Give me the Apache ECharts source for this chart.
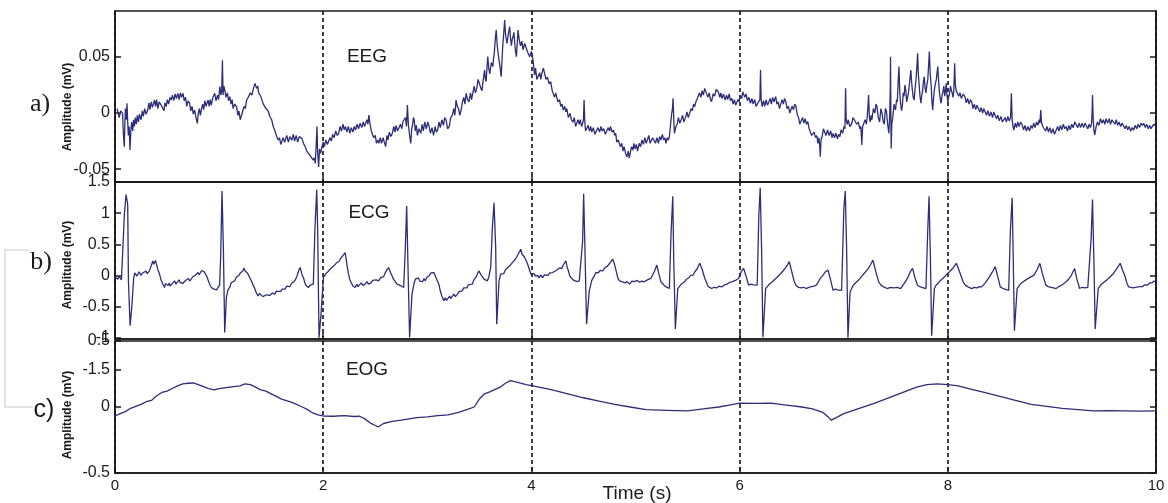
<!DOCTYPE html>
<html>
<head>
<meta charset="utf-8">
<script src="https://cdn.jsdelivr.net/npm/echarts@6/dist/echarts.min.js"></script>
<style>
html,body{margin:0;padding:0;background:#fff;}
#chart{width:1168px;height:503px;}
</style>
</head>
<body>
<div id="chart"></div>
<script>
// ---- data (time in s, amplitude in axis units) ----
const timeTicks = [0, 2, 4, 6, 8, 10];
const timeLabels = ['0', '2', '4', '6', '8', '10'];

const eegTickValues = [-0.05, 0, 0.05];
const eegTickLabels = ['-0.05', '0', '0.05'];
const ecgTickValues = [-1, -0.5, 0, 0.5, 1, 1.5];
const ecgTickLabels = ['-1', '-0.5', '0', '0.5', '1', '1.5'];
const eogTickValues = [-0.5, 0, 0.28, 0.5];
const eogTickLabels = ['-0.5', '0', '-1.5', '0.5'];

const panelLetters = ['a)', 'b)', 'c)'];
const panelNames = ['EEG', 'ECG', 'EOG'];

const eegPoints = [
[0.02,0.004],[0.04,-0.004],[0.055,0.002],[0.073,-0.0003],[0.08,-0.018],[0.089,-0.030],[0.095,-0.010],[0.100,0.004],[0.108,-0.006],[0.115,0.0087],[0.122,-0.008],[0.128,-0.020],[0.136,-0.012],[0.144,-0.033],[0.152,-0.016],[0.160,-0.008],[0.170,-0.016],[0.178,-0.006],[0.186,-0.012],[0.196,-0.004],[0.205,-0.010],[0.215,-0.002],[0.225,-0.008],[0.235,-0.001],[0.250,-0.006],[0.262,0.002],[0.272,-0.003],[0.285,0.004],[0.298,-0.001],[0.314,0.0027],[0.326,0.009],[0.336,0.003],[0.348,0.010],[0.360,0.005],[0.379,0.0116],[0.390,0.006],[0.400,0.012],[0.412,0.004],[0.425,0.010],[0.443,0.0116],[0.455,0.005],[0.470,0.002],[0.480,0.009],[0.491,0.0057],[0.503,0.012],[0.515,0.008],[0.528,0.014],[0.540,0.0116],[0.552,0.016],[0.565,0.011],[0.578,0.017],[0.590,0.013],[0.604,0.0176],[0.616,0.012],[0.628,0.018],[0.640,0.014],[0.653,0.0176],[0.665,0.011],[0.678,0.014],[0.690,0.006],[0.703,0.011],[0.717,0.0087],[0.728,0.002],[0.740,0.006],[0.752,-0.001],[0.765,0.0027],[0.778,-0.004],[0.791,-0.0092],[0.800,0.000],[0.810,0.004],[0.820,-0.002],[0.829,0.0027],[0.842,0.008],[0.852,0.003],[0.863,0.011],[0.875,0.006],[0.894,0.0116],[0.905,0.006],[0.915,0.012],[0.925,0.007],[0.940,0.014],[0.958,0.0176],[0.970,0.011],[0.985,0.016],[0.995,0.012],[1.007,0.0235],[1.018,0.016],[1.025,0.020],[1.032,0.047],[1.038,0.016],[1.046,0.024],[1.055,0.0205],[1.066,0.014],[1.080,0.018],[1.090,0.011],[1.103,0.0146],[1.115,0.008],[1.125,0.012],[1.135,0.004],[1.150,0.008],[1.168,0.0057],[1.180,-0.002],[1.190,0.002],[1.203,-0.006],[1.216,-0.006],[1.228,0.002],[1.240,0.006],[1.252,0.004],[1.264,0.0116],[1.280,0.014],[1.300,0.018],[1.315,0.016],[1.330,0.022],[1.345,0.0265],[1.360,0.022],[1.372,0.024],[1.380,0.018],[1.395,0.016],[1.409,0.0146],[1.425,0.008],[1.440,0.009],[1.450,0.004],[1.470,0.002],[1.489,-0.0033],[1.505,-0.006],[1.520,-0.012],[1.537,-0.016],[1.554,-0.0211],[1.568,-0.024],[1.580,-0.022],[1.592,-0.028],[1.602,-0.0271],[1.615,-0.022],[1.630,-0.026],[1.650,-0.020],[1.665,-0.026],[1.680,-0.021],[1.699,-0.0241],[1.712,-0.019],[1.725,-0.025],[1.740,-0.020],[1.755,-0.026],[1.770,-0.021],[1.795,-0.0226],[1.810,-0.027],[1.828,-0.030],[1.842,-0.034],[1.860,-0.033],[1.875,-0.038],[1.892,-0.039],[1.905,-0.042],[1.915,-0.040],[1.924,-0.045],[1.932,-0.030],[1.940,-0.012],[1.947,-0.035],[1.956,-0.048],[1.965,-0.032],[1.975,-0.036],[1.988,-0.030],[2.000,-0.026],[2.012,-0.030],[2.025,-0.024],[2.040,-0.028],[2.053,-0.0271],[2.065,-0.022],[2.078,-0.025],[2.090,-0.019],[2.105,-0.022],[2.120,-0.016],[2.135,-0.020],[2.149,-0.0181],[2.162,-0.012],[2.175,-0.016],[2.190,-0.010],[2.202,-0.015],[2.214,-0.012],[2.228,-0.017],[2.242,-0.012],[2.256,-0.018],[2.270,-0.013],[2.285,-0.017],[2.298,-0.012],[2.310,-0.0152],[2.325,-0.010],[2.340,-0.014],[2.355,-0.009],[2.370,-0.013],[2.385,-0.008],[2.397,-0.012],[2.407,-0.0092],[2.420,-0.006],[2.430,-0.010],[2.439,-0.0018],[2.450,-0.010],[2.462,-0.016],[2.471,-0.0152],[2.485,-0.022],[2.500,-0.020],[2.512,-0.027],[2.525,-0.024],[2.535,-0.0271],[2.548,-0.022],[2.560,-0.027],[2.575,-0.022],[2.587,-0.026],[2.600,-0.030],[2.612,-0.020],[2.622,-0.024],[2.635,-0.017],[2.650,-0.021],[2.664,-0.0181],[2.678,-0.012],[2.690,-0.017],[2.700,-0.011],[2.715,-0.016],[2.729,-0.0152],[2.742,-0.010],[2.755,-0.014],[2.765,-0.008],[2.777,-0.0092],[2.790,-0.004],[2.800,-0.012],[2.809,0.0071],[2.818,-0.010],[2.825,-0.016],[2.833,-0.022],[2.841,-0.0271],[2.850,-0.014],[2.860,-0.010],[2.867,-0.004],[2.874,-0.006],[2.885,-0.016],[2.895,-0.011],[2.905,-0.020],[2.920,-0.014],[2.938,-0.0181],[2.950,-0.010],[2.962,-0.016],[2.975,-0.008],[2.990,-0.014],[3.005,-0.008],[3.018,-0.012],[3.030,-0.018],[3.045,-0.013],[3.060,-0.020],[3.075,-0.012],[3.087,-0.017],[3.099,-0.0152],[3.112,-0.008],[3.125,-0.013],[3.140,-0.006],[3.155,-0.011],[3.167,-0.004],[3.180,-0.006],[3.195,-0.014],[3.211,-0.012],[3.225,-0.004],[3.240,-0.002],[3.255,0.004],[3.265,-0.002],[3.276,0.0116],[3.288,0.006],[3.300,0.004],[3.312,-0.002],[3.325,0.0027],[3.338,0.010],[3.350,0.014],[3.362,0.008],[3.373,0.0176],[3.387,0.012],[3.400,0.010],[3.415,0.018],[3.425,0.012],[3.437,0.0176],[3.450,0.024],[3.462,0.018],[3.475,0.022],[3.488,0.030],[3.502,0.0295],[3.515,0.022],[3.525,0.020],[3.538,0.030],[3.550,0.0384],[3.558,0.030],[3.565,0.028],[3.573,0.040],[3.581,0.0503],[3.590,0.040],[3.600,0.035],[3.615,0.045],[3.630,0.0414],[3.638,0.050],[3.645,0.055],[3.653,0.066],[3.662,0.0741],[3.672,0.060],[3.685,0.050],[3.697,0.042],[3.710,0.0324],[3.718,0.048],[3.725,0.060],[3.735,0.072],[3.743,0.083],[3.752,0.070],[3.765,0.062],[3.778,0.070],[3.791,0.077],[3.800,0.066],[3.808,0.060],[3.816,0.066],[3.824,0.068],[3.832,0.072],[3.840,0.062],[3.848,0.055],[3.856,0.0503],[3.864,0.062],[3.872,0.0741],[3.882,0.066],[3.895,0.060],[3.908,0.064],[3.920,0.0563],[3.935,0.062],[3.950,0.058],[3.965,0.054],[3.984,0.0503],[4.000,0.055],[4.016,0.047],[4.030,0.034],[4.040,0.040],[4.052,0.030],[4.065,0.0295],[4.080,0.036],[4.090,0.030],[4.100,0.035],[4.115,0.040],[4.129,0.0384],[4.140,0.030],[4.155,0.032],[4.170,0.026],[4.185,0.028],[4.200,0.020],[4.209,0.0205],[4.222,0.014],[4.233,0.018],[4.242,0.0146],[4.255,0.010],[4.270,0.012],[4.282,0.006],[4.295,0.008],[4.306,0.0027],[4.320,0.006],[4.330,0.001],[4.340,0.004],[4.355,-0.004],[4.371,-0.0003],[4.385,-0.006],[4.400,-0.008],[4.412,-0.004],[4.424,-0.012],[4.435,-0.012],[4.448,-0.006],[4.460,-0.010],[4.470,-0.006],[4.482,-0.012],[4.490,-0.010],[4.500,-0.006],[4.506,0.0116],[4.512,-0.006],[4.520,-0.016],[4.532,-0.0152],[4.545,-0.011],[4.558,-0.016],[4.570,-0.012],[4.580,-0.017],[4.595,-0.013],[4.610,-0.019],[4.628,-0.0181],[4.640,-0.013],[4.655,-0.017],[4.668,-0.012],[4.680,-0.016],[4.695,-0.014],[4.710,-0.019],[4.725,-0.0181],[4.738,-0.013],[4.750,-0.016],[4.760,-0.012],[4.775,-0.017],[4.789,-0.0152],[4.800,-0.020],[4.810,-0.018],[4.820,-0.026],[4.835,-0.024],[4.854,-0.030],[4.868,-0.027],[4.880,-0.034],[4.890,-0.030],[4.905,-0.036],[4.918,-0.039],[4.930,-0.034],[4.940,-0.040],[4.952,-0.039],[4.962,-0.030],[4.975,-0.033],[4.984,-0.0271],[4.995,-0.032],[5.008,-0.028],[5.020,-0.034],[5.035,-0.027],[5.049,-0.030],[5.062,-0.024],[5.075,-0.028],[5.090,-0.022],[5.102,-0.027],[5.114,-0.0241],[5.128,-0.020],[5.140,-0.027],[5.150,-0.028],[5.165,-0.022],[5.179,-0.0211],[5.192,-0.027],[5.205,-0.022],[5.220,-0.027],[5.232,-0.021],[5.244,-0.0241],[5.258,-0.019],[5.270,-0.024],[5.282,-0.022],[5.293,-0.0271],[5.305,-0.022],[5.315,-0.024],[5.325,-0.0211],[5.335,-0.012],[5.348,-0.0003],[5.355,0.004],[5.361,0.0131],[5.367,-0.004],[5.374,-0.0181],[5.388,-0.012],[5.400,-0.010],[5.412,-0.004],[5.425,-0.009],[5.439,-0.006],[5.452,-0.002],[5.465,-0.008],[5.480,-0.004],[5.495,0.001],[5.507,-0.004],[5.520,-0.0003],[5.533,0.004],[5.545,0.002],[5.558,0.008],[5.568,0.0057],[5.580,0.010],[5.590,0.012],[5.601,0.0131],[5.615,0.018],[5.628,0.014],[5.640,0.020],[5.652,0.016],[5.665,0.022],[5.682,0.0205],[5.695,0.014],[5.708,0.018],[5.720,0.012],[5.731,0.0101],[5.745,0.017],[5.760,0.015],[5.775,0.021],[5.795,0.019],[5.810,0.014],[5.820,0.018],[5.830,0.013],[5.845,0.017],[5.860,0.0116],[5.875,0.016],[5.885,0.012],[5.900,0.017],[5.912,0.011],[5.925,0.0131],[5.938,0.008],[5.950,0.012],[5.962,0.007],[5.974,0.0057],[5.985,0.012],[5.995,0.010],[6.005,0.016],[6.020,0.013],[6.030,0.019],[6.039,0.0205],[6.050,0.014],[6.062,0.017],[6.075,0.011],[6.090,0.014],[6.104,0.0087],[6.118,0.013],[6.130,0.008],[6.145,0.012],[6.158,0.006],[6.169,0.0071],[6.182,0.010],[6.195,0.012],[6.201,0.0384],[6.207,0.012],[6.217,0.0057],[6.230,0.011],[6.242,0.006],[6.255,0.012],[6.268,0.007],[6.282,0.0087],[6.295,0.013],[6.305,0.008],[6.318,0.014],[6.330,0.010],[6.347,0.0146],[6.358,0.008],[6.370,0.010],[6.383,0.004],[6.396,0.0057],[6.408,0.012],[6.420,0.008],[6.432,0.013],[6.444,0.0101],[6.456,0.004],[6.470,0.006],[6.482,0.000],[6.493,-0.0003],[6.505,0.006],[6.518,0.003],[6.530,0.008],[6.542,0.0057],[6.555,-0.002],[6.567,-0.004],[6.578,-0.010],[6.590,-0.0092],[6.605,-0.004],[6.617,-0.009],[6.630,-0.005],[6.642,-0.010],[6.655,-0.0077],[6.668,-0.014],[6.680,-0.015],[6.692,-0.020],[6.704,-0.0211],[6.716,-0.017],[6.730,-0.022],[6.742,-0.020],[6.752,-0.0271],[6.762,-0.022],[6.770,-0.030],[6.775,-0.039],[6.782,-0.024],[6.795,-0.020],[6.805,-0.014],[6.817,-0.0152],[6.830,-0.020],[6.845,-0.015],[6.860,-0.020],[6.875,-0.016],[6.888,-0.022],[6.898,-0.0181],[6.912,-0.022],[6.925,-0.018],[6.940,-0.023],[6.950,-0.019],[6.963,-0.0211],[6.975,-0.015],[6.990,-0.018],[7.003,-0.012],[7.012,-0.014],[7.018,0.022],[7.024,-0.006],[7.034,-0.010],[7.044,-0.006],[7.058,-0.012],[7.075,-0.010],[7.090,-0.004],[7.109,-0.0033],[7.125,-0.010],[7.140,-0.008],[7.155,-0.014],[7.165,-0.012],[7.174,-0.0285],[7.182,-0.012],[7.190,-0.010],[7.206,-0.006],[7.218,-0.010],[7.225,-0.004],[7.232,0.004],[7.239,0.0161],[7.247,-0.004],[7.255,-0.008],[7.263,-0.002],[7.271,-0.006],[7.285,0.004],[7.300,0.000],[7.310,0.008],[7.320,0.0057],[7.332,-0.004],[7.345,-0.008],[7.357,0.004],[7.369,-0.0003],[7.380,-0.008],[7.390,-0.010],[7.400,0.004],[7.410,0.002],[7.422,-0.010],[7.434,-0.0181],[7.442,-0.002],[7.447,0.020],[7.450,0.0503],[7.453,0.000],[7.456,-0.0316],[7.462,-0.010],[7.470,-0.005],[7.484,0.008],[7.498,0.0027],[7.508,0.012],[7.515,0.010],[7.524,0.030],[7.531,0.0414],[7.538,0.020],[7.545,0.010],[7.555,0.002],[7.563,0.0057],[7.572,0.018],[7.580,0.015],[7.588,0.025],[7.596,0.0205],[7.605,0.010],[7.615,0.010],[7.622,0.018],[7.630,0.025],[7.638,0.032],[7.645,0.0384],[7.652,0.028],[7.660,0.020],[7.668,0.014],[7.677,0.0116],[7.686,0.022],[7.695,0.030],[7.702,0.040],[7.710,0.0533],[7.717,0.035],[7.725,0.025],[7.733,0.015],[7.742,0.0087],[7.750,0.016],[7.758,0.020],[7.766,0.028],[7.774,0.0324],[7.782,0.022],[7.790,0.018],[7.799,0.025],[7.808,0.030],[7.815,0.042],[7.823,0.0548],[7.831,0.035],[7.840,0.025],[7.848,0.010],[7.855,0.0027],[7.862,0.012],[7.870,0.020],[7.880,0.026],[7.890,0.030],[7.897,0.036],[7.904,0.0414],[7.912,0.028],[7.920,0.018],[7.928,0.012],[7.936,0.0087],[7.945,0.016],[7.955,0.020],[7.962,0.024],[7.970,0.015],[7.978,0.020],[7.985,0.0265],[7.992,0.016],[8.000,0.010],[8.008,0.014],[8.017,0.0176],[8.026,0.024],[8.035,0.020],[8.042,0.018],[8.050,0.014],[8.058,0.020],[8.066,0.0444],[8.072,0.026],[8.080,0.020],[8.092,0.0205],[8.105,0.015],[8.118,0.018],[8.130,0.013],[8.148,0.017],[8.164,0.0146],[8.178,0.009],[8.190,0.013],[8.205,0.008],[8.217,0.012],[8.229,0.0101],[8.242,0.004],[8.255,0.008],[8.268,0.003],[8.280,0.007],[8.293,0.0057],[8.308,0.001],[8.320,0.005],[8.335,0.000],[8.345,0.004],[8.358,0.0027],[8.372,-0.002],[8.385,0.002],[8.400,-0.003],[8.415,0.001],[8.430,-0.004],[8.442,0.001],[8.455,-0.0003],[8.468,-0.005],[8.480,-0.002],[8.495,-0.007],[8.510,-0.003],[8.525,-0.008],[8.537,-0.0092],[8.550,-0.004],[8.563,-0.008],[8.577,-0.003],[8.590,-0.007],[8.603,-0.004],[8.611,0.0176],[8.618,-0.006],[8.626,-0.012],[8.634,-0.0152],[8.648,-0.009],[8.660,-0.013],[8.672,-0.008],[8.685,-0.012],[8.700,-0.008],[8.715,-0.0107],[8.728,-0.015],[8.742,-0.011],[8.755,-0.016],[8.770,-0.012],[8.785,-0.016],[8.800,-0.011],[8.812,-0.0137],[8.825,-0.009],[8.838,-0.013],[8.852,-0.008],[8.865,-0.011],[8.878,-0.006],[8.885,-0.009],[8.893,0.0027],[8.900,-0.008],[8.912,-0.012],[8.926,-0.012],[8.940,-0.016],[8.953,-0.012],[8.967,-0.017],[8.980,-0.013],[8.995,-0.018],[9.010,-0.014],[9.025,-0.019],[9.040,-0.0181],[9.055,-0.012],[9.068,-0.016],[9.082,-0.011],[9.095,-0.015],[9.110,-0.010],[9.123,-0.014],[9.137,-0.012],[9.150,-0.016],[9.163,-0.011],[9.177,-0.015],[9.190,-0.010],[9.205,-0.013],[9.220,-0.008],[9.234,-0.0092],[9.248,-0.013],[9.262,-0.009],[9.275,-0.013],[9.290,-0.009],[9.305,-0.013],[9.318,-0.009],[9.331,-0.0107],[9.345,-0.014],[9.358,-0.010],[9.370,-0.013],[9.380,-0.010],[9.386,0.000],[9.390,0.0161],[9.396,-0.004],[9.404,-0.016],[9.412,-0.0196],[9.425,-0.012],[9.438,-0.008],[9.452,-0.011],[9.466,-0.005],[9.480,-0.009],[9.494,-0.006],[9.508,-0.010],[9.520,-0.005],[9.535,-0.009],[9.550,-0.005],[9.563,-0.010],[9.577,-0.006],[9.591,-0.006],[9.605,-0.010],[9.618,-0.006],[9.632,-0.011],[9.645,-0.008],[9.660,-0.012],[9.675,-0.009],[9.688,-0.0107],[9.702,-0.014],[9.715,-0.011],[9.728,-0.015],[9.742,-0.012],[9.757,-0.016],[9.772,-0.013],[9.786,-0.0152],[9.800,-0.011],[9.815,-0.014],[9.828,-0.010],[9.842,-0.013],[9.856,-0.009],[9.870,-0.011],[9.883,-0.0092],[9.897,-0.013],[9.910,-0.010],[9.925,-0.014],[9.940,-0.011],[9.952,-0.014],[9.964,-0.012],[9.980,-0.010],[10.0,-0.012]
];

const ecgPoints = [
[0.0,-0.02],[0.013,-0.05],[0.026,-0.06],[0.040,-0.02],[0.050,-0.04],[0.062,-0.07],[0.074,-0.086],[0.090,0.98],[0.106,1.30],[0.122,1.14],[0.129,-0.086],[0.145,-0.808],[0.161,-0.514],[0.180,-0.034],[0.190,0.040],[0.200,0.030],[0.210,-0.010],[0.219,0.02],[0.232,0.060],[0.250,0.000],[0.265,0.040],[0.275,0.010],[0.283,0.047],[0.297,0.070],[0.310,0.030],[0.320,0.060],[0.331,0.073],[0.342,0.130],[0.350,0.150],[0.363,0.233],[0.372,0.180],[0.380,0.200],[0.388,0.240],[0.395,0.207],[0.410,0.100],[0.420,0.060],[0.428,0.02],[0.440,-0.060],[0.450,-0.100],[0.462,-0.150],[0.476,-0.193],[0.485,-0.130],[0.495,-0.150],[0.510,-0.160],[0.522,-0.120],[0.530,-0.170],[0.540,-0.193],[0.555,-0.120],[0.573,-0.086],[0.585,-0.140],[0.600,-0.120],[0.615,-0.070],[0.625,-0.110],[0.636,-0.086],[0.650,-0.130],[0.665,-0.120],[0.678,-0.080],[0.690,-0.100],[0.705,-0.050],[0.718,-0.090],[0.733,-0.06],[0.748,-0.020],[0.760,-0.040],[0.770,0.000],[0.785,0.020],[0.797,0.047],[0.808,0.010],[0.820,0.040],[0.832,0.080],[0.845,0.10],[0.857,0.060],[0.870,0.030],[0.880,-0.010],[0.893,-0.034],[0.905,-0.120],[0.915,-0.160],[0.925,-0.193],[0.940,-0.170],[0.950,-0.220],[0.960,-0.200],[0.975,-0.230],[0.990,-0.247],[1.005,-0.150],[1.015,0.287],[1.028,1.357],[1.041,0.447],[1.054,-0.915],[1.070,-0.354],[1.085,-0.230],[1.102,-0.193],[1.115,-0.120],[1.128,-0.140],[1.150,-0.086],[1.165,-0.030],[1.178,-0.050],[1.190,0.000],[1.205,0.040],[1.218,0.02],[1.230,0.080],[1.240,0.120],[1.250,0.070],[1.262,0.084],[1.275,0.030],[1.290,0.000],[1.310,-0.086],[1.325,-0.150],[1.340,-0.200],[1.358,-0.280],[1.375,-0.327],[1.388,-0.290],[1.400,-0.300],[1.420,-0.340],[1.439,-0.354],[1.455,-0.310],[1.470,-0.340],[1.490,-0.320],[1.510,-0.280],[1.522,-0.310],[1.535,-0.30],[1.550,-0.250],[1.565,-0.280],[1.590,-0.260],[1.605,-0.220],[1.618,-0.250],[1.632,-0.22],[1.650,-0.170],[1.665,-0.200],[1.680,-0.180],[1.695,-0.130],[1.711,-0.14],[1.725,-0.090],[1.738,-0.050],[1.750,0.000],[1.765,0.080],[1.779,0.128],[1.795,0.020],[1.810,-0.034],[1.830,-0.150],[1.857,-0.193],[1.880,-0.150],[1.895,-0.180],[1.905,-0.14],[1.921,0.768],[1.938,1.38],[1.947,0.715],[1.960,-1.0],[1.979,-0.62],[2.002,-0.034],[2.020,0.020],[2.040,0.050],[2.052,0.030],[2.066,0.10],[2.085,0.120],[2.100,0.150],[2.115,0.140],[2.130,0.207],[2.150,0.220],[2.170,0.280],[2.185,0.270],[2.195,0.330],[2.211,0.367],[2.230,0.150],[2.243,0.02],[2.255,-0.060],[2.270,-0.120],[2.285,-0.170],[2.307,-0.193],[2.322,-0.140],[2.335,-0.180],[2.350,-0.160],[2.365,-0.120],[2.380,-0.160],[2.403,-0.14],[2.420,-0.100],[2.435,-0.140],[2.460,-0.120],[2.475,-0.080],[2.490,-0.110],[2.510,-0.070],[2.532,-0.086],[2.550,-0.040],[2.565,-0.050],[2.580,-0.020],[2.595,0.040],[2.610,0.080],[2.628,0.128],[2.645,0.050],[2.660,0.000],[2.675,-0.060],[2.693,-0.086],[2.710,-0.140],[2.725,-0.120],[2.740,-0.160],[2.755,-0.180],[2.773,-0.193],[2.789,0.447],[2.802,1.115],[2.814,0.18],[2.830,-0.996],[2.853,-0.30],[2.870,-0.150],[2.885,-0.060],[2.901,-0.086],[2.915,-0.040],[2.928,-0.090],[2.940,-0.060],[2.955,-0.100],[2.968,-0.050],[2.981,-0.086],[2.995,-0.030],[3.008,-0.050],[3.020,0.000],[3.035,0.040],[3.048,0.010],[3.063,0.047],[3.075,0.020],[3.090,-0.060],[3.111,-0.14],[3.125,-0.250],[3.140,-0.330],[3.158,-0.407],[3.172,-0.360],[3.185,-0.400],[3.200,-0.380],[3.215,-0.330],[3.225,-0.370],[3.239,-0.354],[3.255,-0.300],[3.270,-0.340],[3.290,-0.300],[3.305,-0.260],[3.320,-0.290],[3.335,-0.247],[3.350,-0.200],[3.365,-0.230],[3.380,-0.200],[3.395,-0.150],[3.410,-0.180],[3.432,-0.14],[3.445,-0.080],[3.458,-0.050],[3.470,-0.020],[3.485,0.040],[3.497,0.073],[3.512,0.020],[3.530,0.000],[3.545,-0.060],[3.560,-0.030],[3.577,-0.086],[3.592,-0.020],[3.609,0.128],[3.625,0.768],[3.641,1.168],[3.657,0.447],[3.667,-0.782],[3.689,-0.086],[3.705,0.020],[3.720,0.050],[3.735,0.030],[3.753,0.10],[3.770,0.090],[3.790,0.150],[3.805,0.130],[3.817,0.207],[3.830,0.180],[3.845,0.260],[3.860,0.300],[3.875,0.280],[3.898,0.421],[3.910,0.340],[3.920,0.360],[3.932,0.300],[3.946,0.287],[3.960,0.200],[3.980,0.100],[3.995,0.020],[4.011,-0.007],[4.025,0.030],[4.040,-0.010],[4.060,0.000],[4.075,-0.040],[4.090,0.010],[4.107,-0.034],[4.125,0.010],[4.140,-0.020],[4.160,0.000],[4.175,0.040],[4.190,0.010],[4.203,0.047],[4.220,0.030],[4.238,0.080],[4.255,0.070],[4.270,0.120],[4.290,0.110],[4.310,0.180],[4.331,0.233],[4.345,0.120],[4.355,0.080],[4.367,0.000],[4.379,-0.034],[4.395,-0.040],[4.408,-0.080],[4.420,-0.060],[4.440,-0.100],[4.460,-0.086],[4.492,0.554],[4.502,1.313],[4.514,0.447],[4.530,-0.782],[4.556,-0.247],[4.580,-0.080],[4.604,-0.007],[4.620,0.050],[4.640,0.040],[4.660,0.080],[4.685,0.073],[4.705,0.120],[4.730,0.150],[4.755,0.200],[4.781,0.26],[4.795,0.200],[4.810,0.100],[4.830,-0.040],[4.846,-0.086],[4.870,-0.100],[4.900,-0.120],[4.920,-0.100],[4.942,-0.14],[4.965,-0.090],[4.990,-0.100],[5.015,-0.080],[5.040,-0.110],[5.060,-0.090],[5.082,-0.102],[5.115,-0.070],[5.147,-0.048],[5.180,0.060],[5.205,0.167],[5.225,0.020],[5.244,-0.102],[5.270,-0.150],[5.290,-0.180],[5.325,-0.21],[5.341,0.653],[5.358,1.27],[5.367,0.275],[5.383,-0.859],[5.406,-0.21],[5.440,-0.140],[5.471,-0.102],[5.490,-0.060],[5.510,-0.040],[5.530,0.000],[5.552,0.005],[5.570,0.060],[5.590,0.100],[5.617,0.195],[5.640,0.100],[5.666,-0.048],[5.700,-0.180],[5.731,-0.21],[5.755,-0.190],[5.780,-0.200],[5.805,-0.170],[5.828,-0.184],[5.855,-0.150],[5.880,-0.140],[5.905,-0.110],[5.925,-0.102],[5.960,-0.080],[5.990,-0.048],[6.015,0.060],[6.039,0.113],[6.060,0.000],[6.087,-0.156],[6.110,-0.140],[6.130,-0.150],[6.169,-0.156],[6.185,0.977],[6.198,1.408],[6.211,0.437],[6.224,-0.993],[6.250,-0.21],[6.280,-0.150],[6.315,-0.102],[6.340,-0.060],[6.360,-0.030],[6.396,0.032],[6.420,0.080],[6.440,0.120],[6.460,0.170],[6.477,0.222],[6.495,0.100],[6.510,0.000],[6.525,-0.100],[6.542,-0.156],[6.565,-0.190],[6.590,-0.200],[6.615,-0.190],[6.639,-0.21],[6.665,-0.190],[6.690,-0.180],[6.715,-0.170],[6.736,-0.156],[6.755,-0.110],[6.770,-0.060],[6.801,0.005],[6.825,0.060],[6.850,0.086],[6.875,-0.080],[6.898,-0.238],[6.920,-0.220],[6.940,-0.230],[6.980,-0.238],[7.002,1.085],[7.015,1.355],[7.028,0.437],[7.041,-1.0],[7.061,-0.265],[7.090,-0.160],[7.125,-0.102],[7.150,-0.060],[7.180,0.000],[7.200,0.040],[7.223,0.086],[7.240,0.120],[7.260,0.180],[7.281,0.247],[7.310,0.050],[7.336,-0.102],[7.360,-0.160],[7.380,-0.180],[7.417,-0.21],[7.450,-0.190],[7.480,-0.200],[7.515,-0.190],[7.547,-0.21],[7.580,-0.130],[7.612,-0.048],[7.640,0.060],[7.661,0.113],[7.685,-0.040],[7.709,-0.156],[7.730,-0.180],[7.750,-0.190],[7.790,-0.21],[7.807,0.707],[7.820,1.27],[7.833,0.275],[7.845,-0.966],[7.871,-0.21],[7.890,-0.150],[7.910,-0.120],[7.930,-0.080],[7.952,-0.048],[7.985,0.010],[8.017,0.059],[8.050,0.120],[8.082,0.195],[8.115,0.050],[8.147,-0.102],[8.170,-0.160],[8.190,-0.180],[8.229,-0.21],[8.255,-0.190],[8.280,-0.200],[8.305,-0.180],[8.326,-0.184],[8.360,-0.120],[8.390,-0.048],[8.430,0.060],[8.455,0.14],[8.480,-0.020],[8.504,-0.184],[8.530,-0.210],[8.550,-0.220],[8.585,-0.238],[8.601,0.707],[8.618,1.246],[8.627,0.437],[8.640,-0.886],[8.666,-0.21],[8.700,-0.130],[8.725,-0.100],[8.747,-0.075],[8.770,-0.050],[8.790,-0.030],[8.828,0.005],[8.860,0.100],[8.884,0.195],[8.910,0.020],[8.942,-0.156],[8.965,-0.180],[8.990,-0.190],[9.015,-0.200],[9.040,-0.21],[9.065,-0.180],[9.090,-0.160],[9.115,-0.130],[9.137,-0.102],[9.160,-0.060],[9.180,-0.020],[9.218,0.113],[9.240,-0.060],[9.266,-0.21],[9.290,-0.190],[9.320,-0.200],[9.345,-0.190],[9.364,-0.21],[9.377,0.599],[9.390,1.219],[9.403,0.275],[9.416,-0.859],[9.445,-0.21],[9.470,-0.150],[9.490,-0.120],[9.526,-0.075],[9.560,-0.020],[9.591,0.032],[9.620,0.100],[9.656,0.195],[9.680,0.080],[9.700,0.000],[9.720,-0.120],[9.737,-0.184],[9.760,-0.190],[9.780,-0.200],[9.800,-0.190],[9.818,-0.21],[9.845,-0.180],[9.870,-0.180],[9.890,-0.150],[9.915,-0.156],[9.940,-0.120],[9.960,-0.120],[9.980,-0.090],[10.0,-0.102]
];

const eogPoints = [
[0.0,-0.068],[0.05,-0.05],[0.1,-0.035],[0.15,-0.01],[0.2,0.005],[0.25,0.02],[0.3,0.04],[0.35,0.05],[0.4,0.085],[0.45,0.11],[0.5,0.12],[0.55,0.14],[0.6,0.16],[0.65,0.175],[0.7,0.18],[0.75,0.182],[0.8,0.17],[0.85,0.155],[0.9,0.14],[0.95,0.13],[1.0,0.14],[1.05,0.145],[1.1,0.15],[1.2,0.16],[1.25,0.175],[1.3,0.17],[1.35,0.15],[1.4,0.13],[1.45,0.12],[1.5,0.1],[1.55,0.08],[1.6,0.06],[1.7,0.035],[1.8,0.0],[1.85,-0.02],[1.9,-0.045],[1.95,-0.06],[2.0,-0.068],[2.1,-0.07],[2.2,-0.065],[2.3,-0.072],[2.35,-0.07],[2.4,-0.09],[2.45,-0.12],[2.5,-0.14],[2.53,-0.15],[2.58,-0.125],[2.65,-0.11],[2.75,-0.1],[2.9,-0.08],[3.0,-0.075],[3.1,-0.065],[3.2,-0.06],[3.3,-0.04],[3.4,-0.015],[3.45,0.0],[3.5,0.06],[3.55,0.1],[3.6,0.115],[3.7,0.15],[3.75,0.18],[3.8,0.2],[3.85,0.19],[3.95,0.17],[4.05,0.155],[4.2,0.13],[4.35,0.1],[4.5,0.07],[4.65,0.045],[4.8,0.02],[4.95,0.0],[5.1,-0.02],[5.3,-0.025],[5.5,-0.03],[5.65,-0.015],[5.8,0.0],[5.9,0.015],[6.0,0.03],[6.15,0.028],[6.3,0.03],[6.45,0.015],[6.6,0.0],[6.7,-0.015],[6.8,-0.04],[6.85,-0.075],[6.88,-0.1],[6.93,-0.08],[7.0,-0.05],[7.15,-0.01],[7.3,0.03],[7.45,0.075],[7.6,0.12],[7.7,0.15],[7.8,0.17],[7.9,0.175],[8.0,0.17],[8.1,0.16],[8.2,0.14],[8.35,0.11],[8.5,0.08],[8.65,0.05],[8.8,0.02],[8.95,0.005],[9.1,-0.01],[9.25,-0.02],[9.4,-0.03],[9.55,-0.028],[9.7,-0.03],[9.85,-0.032],[10.0,-0.03]
];

// ---- chart ----
const LINE = '#2c2f78';
const INK = '#1a1a1a';
const FONT = '"Liberation Sans", Arial, sans-serif';
const grids = [
  {left: 115, width: 1041, top: 11, height: 171},
  {left: 115, width: 1041, top: 182, height: 157},
  {left: 115, width: 1041, top: 341, height: 132}
];
const yRanges = [[-0.0615, 0.091], [-1.02, 1.5], [-0.5, 0.5]];
const yTicks = [eegTickValues, ecgTickValues, eogTickValues];
const yLabels = [eegTickLabels, ecgTickLabels, eogTickLabels];

function labelFor(i) {
  return function (v) {
    const idx = yTicks[i].findIndex(t => Math.abs(t - v) < 1e-9);
    return idx >= 0 ? yLabels[i][idx] : '';
  };
}

const option = {
  animation: false,
  backgroundColor: '#ffffff',
  grid: grids.map(g => Object.assign({show: true, borderColor: INK, borderWidth: 1.5, backgroundColor: 'transparent', outerBoundsMode: 'none', containLabel: false}, g)),
  xAxis: [0, 1, 2].map(i => ({
    type: 'value', gridIndex: i, min: 0, max: 10, interval: 2,
    axisLine: {show: true, onZero: false, lineStyle: {color: INK, width: 1.5}},
    axisTick: {show: true, inside: true, length: 6, lineStyle: {color: INK, width: 1.5}},
    axisLabel: {show: i === 2, margin: 5, color: INK, fontSize: 15, fontFamily: FONT,
      formatter: v => { const k = timeTicks.indexOf(v); return k >= 0 ? timeLabels[k] : ''; }},
    splitLine: {show: true, lineStyle: {color: '#000', width: 1.5, type: [4, 3]}}
  })),
  yAxis: [0, 1, 2].flatMap(i => [
    {
      type: 'value', gridIndex: i, min: yRanges[i][0], max: yRanges[i][1], position: 'left',
      axisLine: {show: true, onZero: false, lineStyle: {color: INK, width: 1.5}},
      axisTick: {show: true, inside: true, length: 6, customValues: yTicks[i], lineStyle: {color: INK, width: 1.5}},
      axisLabel: {show: true, margin: 5, color: INK, fontSize: 16, fontFamily: FONT, customValues: yTicks[i], formatter: labelFor(i), showMinLabel: true, showMaxLabel: true, hideOverlap: false},
      splitLine: {show: false}
    },
    {
      type: 'value', gridIndex: i, min: yRanges[i][0], max: yRanges[i][1], position: 'right',
      axisLine: {show: true, onZero: false, lineStyle: {color: INK, width: 1.5}},
      axisTick: {show: true, inside: true, length: 6, customValues: yTicks[i], lineStyle: {color: INK, width: 1.5}},
      axisLabel: {show: false},
      splitLine: {show: false}
    }
  ]),
  series: [eegPoints, ecgPoints, eogPoints].map((d, i) => ({
    type: 'line', xAxisIndex: i, yAxisIndex: i * 2, data: d,
    showSymbol: false, symbol: 'none', smooth: false,
    lineStyle: {color: LINE, width: 1.3}, silent: true, clip: true
  })),
  graphic: [
    {type: 'polyline', silent: true, shape: {points: [[28, 250], [5, 250], [5, 407], [33, 407]]}, style: {stroke: '#e4e4e4', lineWidth: 2, fill: null}},
    {type: 'text', x: 40, y: 104, style: {text: panelLetters[0], font: '26px "Liberation Serif", serif', fill: INK, align: 'center', verticalAlign: 'middle'}},
    {type: 'text', x: 41, y: 262, style: {text: panelLetters[1], font: '26px "Liberation Serif", serif', fill: INK, align: 'center', verticalAlign: 'middle'}},
    {type: 'text', x: 44, y: 410, style: {text: panelLetters[2], font: '25px "Liberation Sans", sans-serif', fill: INK, align: 'center', verticalAlign: 'middle'}},
    {type: 'text', x: 68, y: 107, rotation: Math.PI / 2, style: {text: 'Amplitude (mV)', font: 'bold 12px "Liberation Sans", sans-serif', fill: INK, align: 'center', verticalAlign: 'middle'}},
    {type: 'text', x: 68, y: 265, rotation: Math.PI / 2, style: {text: 'Amplitude (mV)', font: 'bold 12px "Liberation Sans", sans-serif', fill: INK, align: 'center', verticalAlign: 'middle'}},
    {type: 'text', x: 68, y: 415, rotation: Math.PI / 2, style: {text: 'Amplitude (mV)', font: 'bold 12px "Liberation Sans", sans-serif', fill: INK, align: 'center', verticalAlign: 'middle'}},
    {type: 'text', x: 367, y: 57, style: {text: panelNames[0], font: '19px "Liberation Sans", sans-serif', fill: INK, align: 'center', verticalAlign: 'middle'}},
    {type: 'text', x: 369, y: 213, style: {text: panelNames[1], font: '19px "Liberation Sans", sans-serif', fill: INK, align: 'center', verticalAlign: 'middle'}},
    {type: 'text', x: 367, y: 370, style: {text: panelNames[2], font: '19px "Liberation Sans", sans-serif', fill: INK, align: 'center', verticalAlign: 'middle'}},
    {type: 'text', x: 637, y: 494, style: {text: 'Time (s)', font: '19px "Liberation Sans", sans-serif', fill: INK, align: 'center', verticalAlign: 'middle'}}
  ]
};

const chart = echarts.init(document.getElementById('chart'), null, {renderer: 'canvas'});
chart.setOption(option);
</script>
</body>
</html>
